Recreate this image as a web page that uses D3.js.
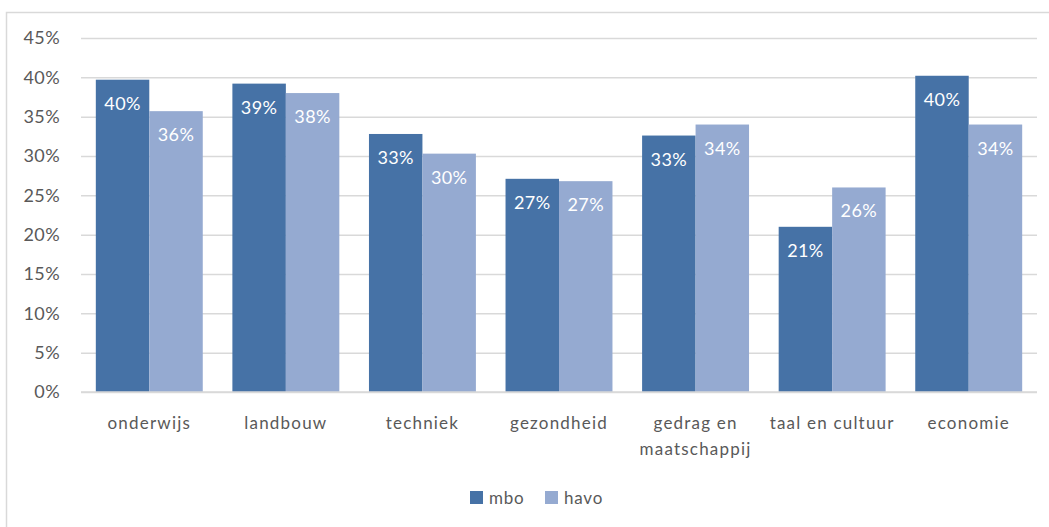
<!DOCTYPE html>
<html lang="nl">
  <head>
    <meta charset="utf-8">
    <title>mbo en havo per sector</title>
    <script type="text/javascript" src="https://cdn.jsdelivr.net/npm/d3@7"></script>
    <style type="text/css">
      body { margin: 0; background: #fff; }
      text { font-family: Lato, "Open Sans", sans-serif; }
    </style>
  </head>
  <body>
    <script type="text/javascript">

      // Data
      var categories = ["onderwijs", "landbouw", "techniek", "gezondheid", "gedrag en maatschappij", "taal en cultuur", "economie"];
      var seriesNames = ["mbo", "havo"];
      var mbo = [39.7, 39.2, 32.8, 27.1, 32.6, 21.0, 40.2];
      var havo = [35.7, 38.0, 30.3, 26.8, 34.0, 26.0, 34.0];
      var yTicks = [0, 5, 10, 15, 20, 25, 30, 35, 40, 45];
      var colors = ["#4672a6", "#95aad1"];

      var w = 1049;
      var h = 527;
      var plotLeft = 81, plotRight = 1037, plotTop = 38, plotBottom = 392;

      var svg = d3.select("body")
        .append("svg")
        .attr("width", w)
        .attr("height", h);

      // Chart frame
      svg.append("rect")
        .attr("x", 6.5)
        .attr("y", 12.5)
        .attr("width", w + 10)
        .attr("height", h + 10)
        .attr("fill", "none")
        .attr("stroke", "#d9d9d9")
        .attr("stroke-width", 1.5);

      var xScale = d3.scaleBand()
        .domain(categories)
        .range([plotLeft, plotRight])
        .paddingInner(0.217)
        .paddingOuter(0.1085);

      var xSub = d3.scaleBand()
        .domain(seriesNames)
        .range([0, xScale.bandwidth()]);

      var yScale = d3.scaleLinear()
        .domain([0, 45])
        .range([plotBottom, plotTop]);

      // Gridlines + y axis labels
      var yAxis = d3.axisLeft(yScale)
        .tickValues(yTicks)
        .tickSize(-(plotRight - plotLeft))
        .tickPadding(21)
        .tickFormat(function(d) { return d + "%"; });

      var gy = svg.append("g")
        .attr("transform", "translate(" + plotLeft + ",0)")
        .call(yAxis);
      gy.select(".domain").remove();
      gy.selectAll(".tick line")
        .attr("stroke", "#d9d9d9")
        .attr("stroke-width", 1.5);
      gy.selectAll(".tick text")
        .attr("fill", "#595959")
        .attr("font-size", "18px")
        .attr("letter-spacing", "0.4px")
        .attr("font-family", "Lato, sans-serif");

      // Bars
      var vals = [mbo, havo];
      var groups = svg.selectAll("g.cat")
        .data(categories)
        .enter()
        .append("g")
        .attr("class", "cat")
        .attr("transform", function(d) { return "translate(" + xScale(d) + ",0)"; });

      var rows = function(d, i) {
        return seriesNames.map(function(s, j) { return { s: s, v: vals[j][i], j: j }; });
      };

      groups.selectAll("rect")
        .data(rows)
        .enter()
        .append("rect")
        .attr("x", function(d) { return xSub(d.s); })
        .attr("y", function(d) { return yScale(d.v); })
        .attr("width", xSub.bandwidth())
        .attr("height", function(d) { return plotBottom - yScale(d.v); })
        .attr("fill", function(d) { return colors[d.j]; });

      groups.selectAll("text.lbl")
        .data(rows)
        .enter()
        .append("text")
        .attr("class", "lbl")
        .attr("x", function(d) { return xSub(d.s) + xSub.bandwidth() / 2; })
        .attr("y", function(d) { return yScale(d.v) + 30; })
        .attr("text-anchor", "middle")
        .attr("fill", "#fff")
        .attr("font-size", "18px")
        .attr("letter-spacing", "0.4px")
        .text(function(d) { return Math.round(d.v) + "%"; });

      // Baseline
      svg.append("line")
        .attr("x1", plotLeft).attr("x2", plotRight)
        .attr("y1", yScale(0)).attr("y2", yScale(0))
        .attr("stroke", "#d9d9d9")
        .attr("stroke-width", 1.5);

      // X labels (wrapped)
      var wrap = { "gedrag en maatschappij": ["gedrag en", "maatschappij"] };
      svg.selectAll("text.xl")
        .data(categories)
        .enter()
        .append("text")
        .attr("class", "xl")
        .attr("text-anchor", "middle")
        .attr("fill", "#595959")
        .attr("font-size", "17px")
        .attr("letter-spacing", "1.2px")
        .each(function(d) {
          var lines = wrap[d] || [d];
          var t = d3.select(this);
          lines.forEach(function(l, i) {
            t.append("tspan")
              .attr("x", xScale(d) + xScale.bandwidth() / 2)
              .attr("y", 429 + i * 26)
              .text(l);
          });
        });

      // Legend
      var legend = svg.append("g");
      var lx = [470, 545];
      seriesNames.forEach(function(s, i) {
        legend.append("rect")
          .attr("x", lx[i]).attr("y", 491)
          .attr("width", 13).attr("height", 13)
          .attr("fill", colors[i]);
        legend.append("text")
          .attr("x", lx[i] + 19).attr("y", 504)
          .attr("fill", "#595959")
          .attr("font-size", "17px")
          .attr("letter-spacing", "0.8px")
          .text(s);
      });

    </script>
  </body>
</html>
